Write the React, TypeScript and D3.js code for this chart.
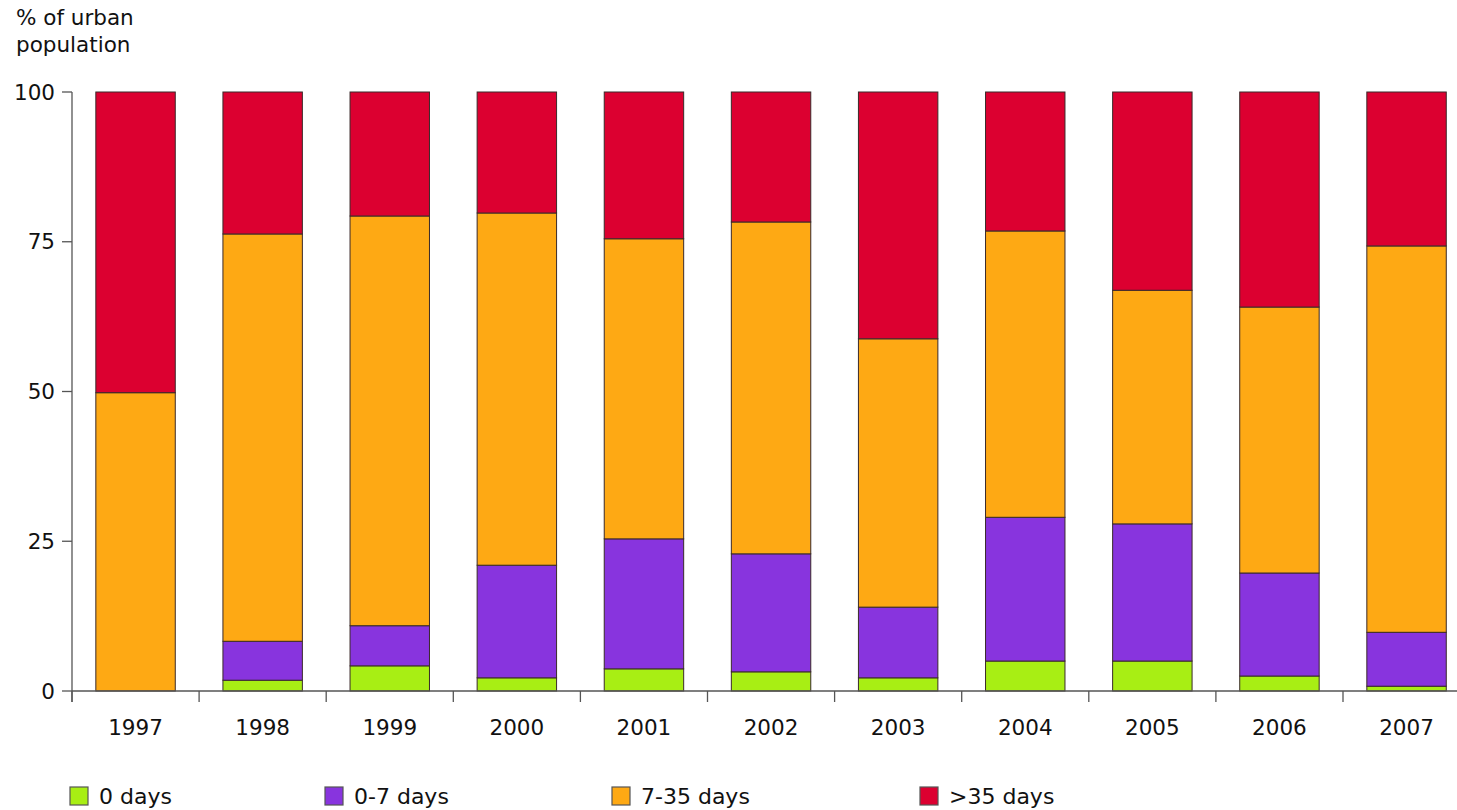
import * as d3 from "d3";

const years = ["1997", "1998", "1999", "2000", "2001", "2002", "2003", "2004", "2005", "2006", "2007"];
// segment sizes (percent of urban population)
const zeroDays = [0, 1.8, 4.2, 2.2, 3.7, 3.2, 2.2, 5.0, 5.0, 2.5, 0.8];
const upTo7 = [0, 6.5, 6.7, 18.8, 21.7, 19.7, 11.8, 24.0, 22.9, 17.2, 9.0];
const from7to35 = [49.8, 68.0, 68.4, 58.8, 50.1, 55.4, 44.8, 47.8, 39.0, 44.4, 64.5];
const over35 = [50.2, 23.7, 20.7, 20.2, 24.5, 21.7, 41.2, 23.2, 33.1, 35.9, 25.7];

const seriesNames = ["0 days", "0-7 days", "7-35 days", ">35 days"];
const seriesColors = ["#a8ee14", "#8834de", "#fea914", "#dc0030"];
const yTicks = [0, 25, 50, 75, 100];

const W = 1457;
const H = 810;
const left = 72;
const top = 92;
const bottom = 691;

const rows = years.map((y, i) => ({
  year: y,
  "0 days": zeroDays[i],
  "0-7 days": upTo7[i],
  "7-35 days": from7to35[i],
  ">35 days": over35[i],
}));

const App = () => {
  const x = d3.scaleBand().domain(years).range([left, left + 11 * 127.1]).paddingInner(0.375).paddingOuter(0.1875);
  const bounds = years.map((_, i) => left + i * 127.1);
  const y = d3.scaleLinear().domain([0, 100]).range([bottom, top]);
  const stacked = d3.stack<any>().keys(seriesNames)(rows);
  const font = "'DejaVu Sans', Verdana, sans-serif";
  const legendX = [70, 325, 612, 920];

  return (
    <svg width={W} height={H} style={{ position: "absolute", left: 0, top: 0 }} fontFamily={font}>
      <text x={16} y={25} fontSize={21.5} fill="#111">% of urban</text>
      <text x={16} y={52} fontSize={21.5} fill="#111">population</text>

      {stacked.map((s, si) => (
        <g key={s.key} fill={seriesColors[si]} stroke="#3a2a2a" strokeWidth={1}>
          {s.map((d, i) =>
            d[1] - d[0] > 0 ? (
              <rect
                key={i}
                x={x(years[i])}
                width={x.bandwidth()}
                y={y(d[1])}
                height={y(d[0]) - y(d[1])}
              />
            ) : null
          )}
        </g>
      ))}

      <g stroke="#555" strokeWidth={1.3}>
        <line x1={left} x2={left} y1={top} y2={bottom + 11} />
        {yTicks.map((t) => (
          <line key={t} x1={left - 10} x2={left} y1={y(t)} y2={y(t)} />
        ))}
        <line x1={left} x2={W + 20} y1={bottom} y2={bottom} />
        {bounds.map((b, i) => (
          <line key={i} x1={b} x2={b} y1={bottom} y2={bottom + 11} />
        ))}
      </g>
      {yTicks.map((t) => (
        <text key={t} x={55} y={y(t)} dy="0.36em" textAnchor="end" fontSize={21.5} fill="#111">
          {t}
        </text>
      ))}
      {years.map((yr) => (
        <text key={yr} x={(x(yr) as number) + x.bandwidth() / 2} y={735} textAnchor="middle" fontSize={21.5} fill="#111">
          {yr}
        </text>
      ))}

      {seriesNames.map((n, i) => (
        <g key={n}>
          <rect x={legendX[i]} y={787} width={18} height={18} fill={seriesColors[i]} stroke="#555" strokeWidth={1.2} />
          <text x={legendX[i] + 29} y={804} fontSize={22} fill="#111">
            {n}
          </text>
        </g>
      ))}
    </svg>
  );
};

export default App;
